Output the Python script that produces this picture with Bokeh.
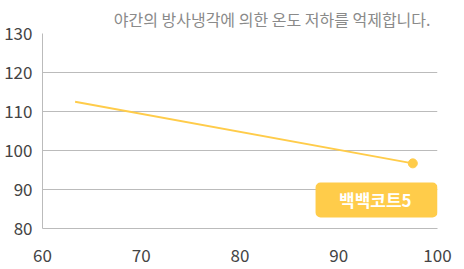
from bokeh.plotting import figure
from bokeh.models import Range1d, FixedTicker, BoxAnnotation, Label
from bokeh.embed import file_html
from bokeh.resources import INLINE

# data
x_vals = [63.3, 97.5]
y_vals = [112.5, 96.7]
end_x = [97.5]
end_y = [96.7]
series_name = "백백코트5"
title_text = "야간의 방사냉각에 의한 온도 저하를 억제합니다."
x_ticks = [60, 70, 80, 90, 100]
y_ticks = [80, 90, 100, 110, 120, 130]

YELLOW = "#FFCC4A"
GRID = "#BBBBBB"
FONT = "Noto Sans CJK KR"

p = figure(width=464, height=269, output_backend="svg", toolbar_location=None,
           x_range=Range1d(60, 100), y_range=Range1d(80, 130),
           min_border_left=42, min_border_right=27, min_border_top=33, min_border_bottom=41)
p.outline_line_color = None
p.background_fill_color = "white"
p.border_fill_color = "white"

p.title.text = title_text
p.title.align = "right"
p.title.text_font = FONT
p.title.text_font_size = "16px"
p.title.text_font_style = "normal"
p.title.text_color = "#8a8a8a"
p.title.offset = 7
p.title.standoff = 6

r = p.line(x_vals, y_vals, line_color=YELLOW, line_width=2)
p.scatter(end_x, end_y, size=9, fill_color=YELLOW, line_color=YELLOW)

for ax in (p.xaxis[0], p.yaxis[0]):
    ax.major_tick_line_color = None
    ax.minor_tick_line_color = None
    ax.major_tick_out = 0
    ax.major_tick_in = 0
    ax.minor_tick_out = 0
    ax.minor_tick_in = 0
    ax.axis_line_color = GRID
    ax.axis_line_width = 1
    ax.major_label_text_font = FONT
    ax.major_label_text_font_size = "17px"
    ax.major_label_text_color = "#444444"
p.xaxis.ticker = FixedTicker(ticks=x_ticks)
p.yaxis.ticker = FixedTicker(ticks=y_ticks)
p.xaxis.major_label_standoff = 20
p.yaxis.major_label_standoff = 10

p.xgrid.grid_line_color = None
p.ygrid.ticker = FixedTicker(ticks=y_ticks)
p.ygrid.grid_line_color = GRID
p.ygrid.grid_line_width = 1

# legend box
p.add_layout(BoxAnnotation(left=87.65, right=100, bottom=82.8, top=91.8,
                           fill_color=YELLOW, fill_alpha=1, line_color=None,
                           border_radius=5))
p.add_layout(Label(x=93.7, y=87.4, text=series_name, text_align="center",
                   text_baseline="middle", text_font=FONT, text_font_size="17px",
                   text_font_style="bold", text_color="white"))

open("out.html", "w").write(file_html(p, INLINE))
